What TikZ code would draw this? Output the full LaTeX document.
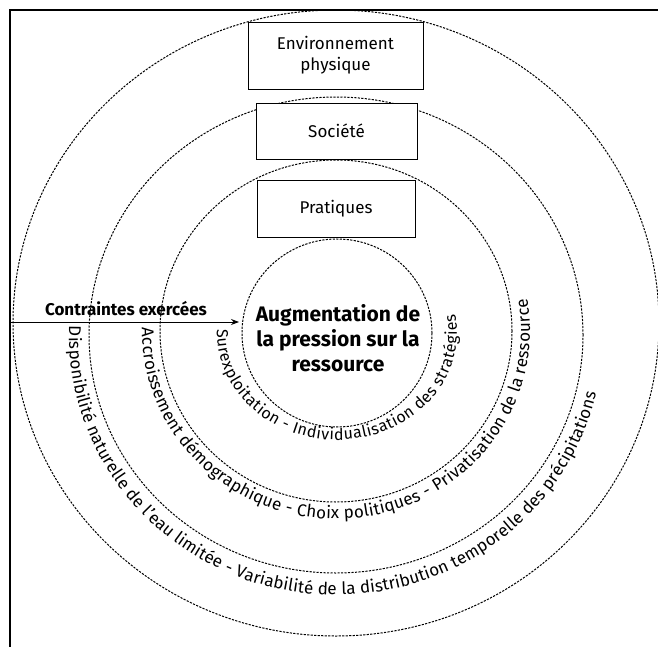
\documentclass[tikz,border=0pt]{standalone}
\usepackage{fontspec}
\setmainfont{Fira Sans}
\usetikzlibrary{shapes.geometric,decorations.text,arrows.meta}

\begin{document}
\begin{tikzpicture}[x=1pt,y=1pt,>={Stealth[length=8pt,width=6pt]},
                    ring/.style={ellipse,draw,dash pattern=on 2.2pt off 1.3pt,
                                 line width=1pt,inner sep=0pt,outer sep=0pt},
                    level/.style={rectangle,draw,fill=white,line width=0.9pt,
                                  align=center,inner sep=0pt,
                                  font=\fontsize{17}{21}\selectfont},
                    ringtext/.style={decorate,decoration={text along path,
                                     text align=fit to path,text={#1}}}]

  \useasboundingbox (0,0) rectangle (658,-647);
  \draw[line width=2.6pt] (10,-660) -- (10,-10) -- (670,-10);

  \node[ring,minimum width=646,minimum height=626] (envring)  at (336,-323) {};
  \node[ring,minimum width=494,minimum height=476] (socring)  at (336,-335) {};
  \node[ring,minimum width=352,minimum height=342] (pratring) at (336,-331) {};
  \node[ring,minimum width=190,minimum height=188] (core)     at (337,-333) {};

  \node[level,minimum width=175,minimum height=67] (envbox)  at (335.5,-55.5) {Environnement\\physique};
  \node[level,minimum width=161,minimum height=56] (socbox)  at (336.5,-131)  {Société};
  \node[level,minimum width=158,minimum height=57] (pratbox) at (336,-208.5)  {Pratiques};

  \node[align=center,font=\bfseries\fontsize{21}{25}\selectfont] (pressure) at (338,-338)
       {Augmentation de\\la pression sur la\\ressource};

  \coordinate (side) at (10,-322);
  \draw[->,line width=1pt,shorten >=3pt] (side) -- (side -| core.west)
       node[midway,above=2pt,font=\bfseries\fontsize{17}{19}\selectfont] (push) {Contraintes exercées};

  \path[ringtext={|\fontsize{16}{16}\selectfont|Surexploitation - Individualisation des stratégies}]
       (core.center) ++(178:120 and 107) arc[start angle=178,end angle=370,x radius=120,y radius=107];
  \path[ringtext={|\fontsize{17}{17}\selectfont|Accroissement démographique - Choix politiques - Privatisation de la ressource}]
       (pratring.center) ++(179:194 and 188) arc[start angle=179,end angle=370,x radius=194,y radius=188];
  \path[ringtext={|\fontsize{17}{17}\selectfont|Disponibilité naturelle de l'eau limitée - Variabilité de la distribution temporelle des précipitations}]
       (socring.center) ++(178:267 and 260) arc[start angle=178,end angle=347,x radius=267,y radius=260];
\end{tikzpicture}
\end{document}
